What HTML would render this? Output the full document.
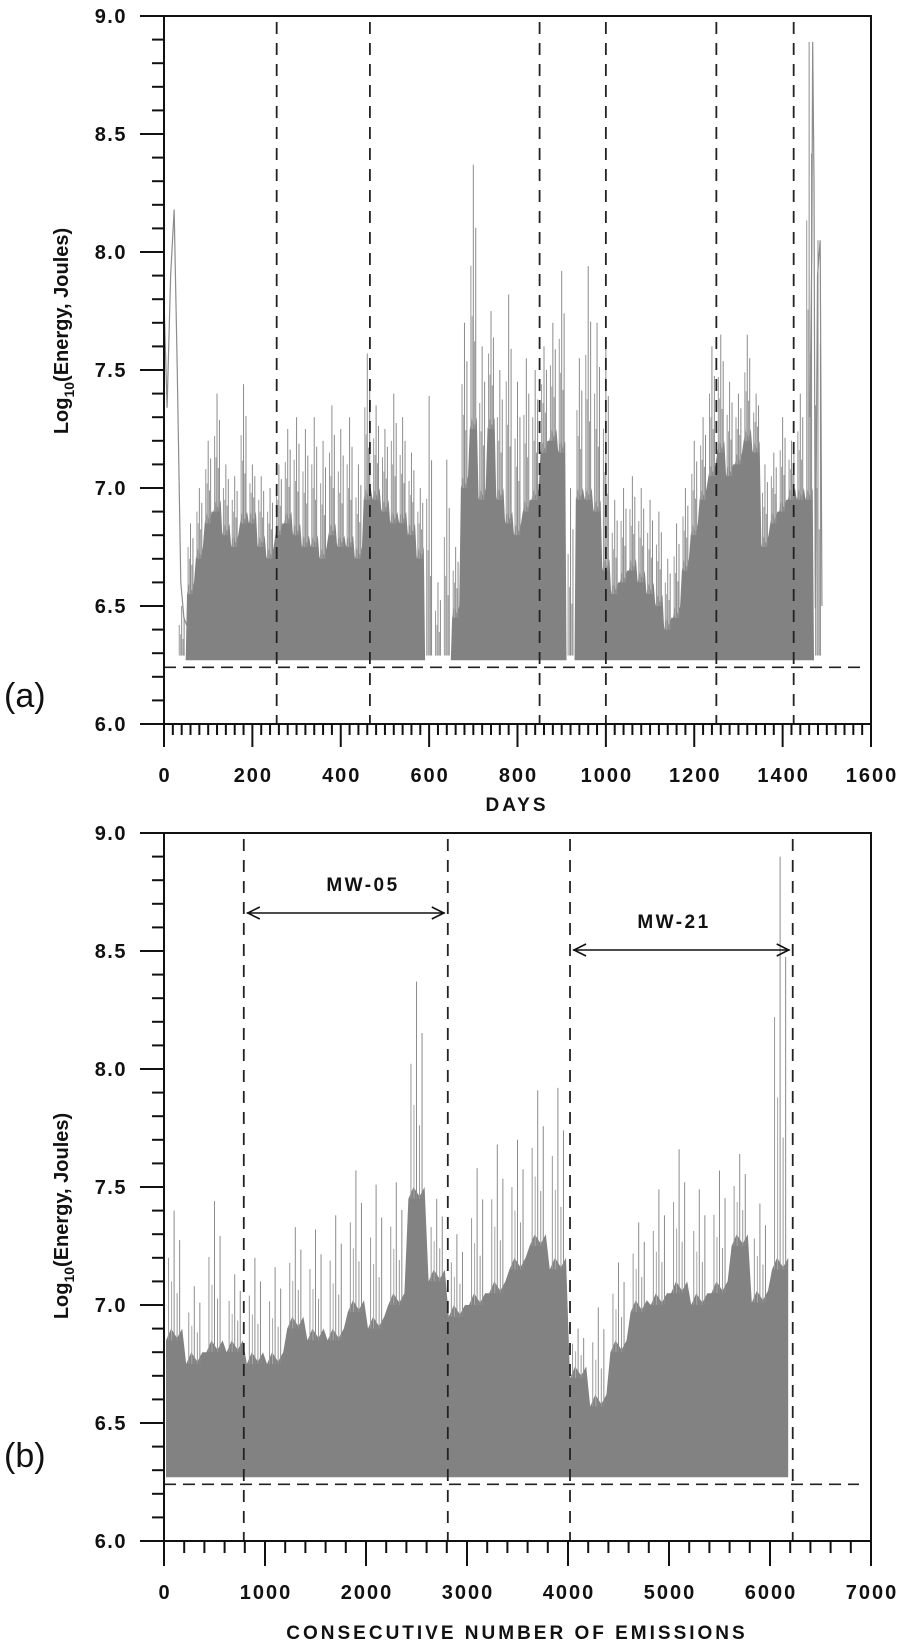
<!DOCTYPE html>
<html><head><meta charset="utf-8">
<style>
html,body{margin:0;padding:0;background:#fff;}
svg{display:block;font-family:"Liberation Sans",sans-serif;}
</style></head>
<body>
<svg id="chart" width="908" height="1649" viewBox="0 0 908 1649" xmlns="http://www.w3.org/2000/svg"></svg>
<script>
// ---------- Panel (a) data: 20-day bins ----------
const daysA = [40,60,80,100,120,140,160,180,200,220,240,260,280,300,320,340,360,380,400,420,440,460,480,500,520,540,560,580,600,620,640,660,680,700,720,740,760,780,800,820,840,860,880,900,920,940,960,980,1000,1020,1040,1060,1080,1100,1120,1140,1160,1180,1200,1220,1240,1260,1280,1300,1320,1340,1360,1380,1400,1420,1440,1460,1480];
const bodyA = [6.3,6.6,6.75,6.9,6.95,6.85,6.8,6.9,6.9,6.8,6.75,6.85,6.9,6.85,6.8,6.8,6.75,6.85,6.8,6.8,6.75,7.0,7.0,6.95,6.9,6.9,6.85,6.75,6.3,6.3,6.3,6.5,7.05,7.3,7.0,7.3,7.0,6.9,6.85,6.95,7.0,7.2,7.25,7.2,6.3,7.0,7.0,6.95,6.7,6.6,6.65,6.7,6.65,6.6,6.55,6.45,6.5,6.7,6.85,7.0,7.1,7.2,7.1,7.15,7.25,7.2,6.8,6.9,6.95,7.0,7.0,7.0,6.3];
const peakA = [6.5,6.85,7.0,7.2,7.4,7.1,7.05,7.44,7.1,7.05,7.0,7.1,7.25,7.3,7.25,7.3,7.2,7.35,7.25,7.3,7.1,7.57,7.35,7.25,7.4,7.3,7.15,7.0,7.39,6.6,7.12,6.75,7.7,8.37,7.6,7.75,7.5,7.82,7.45,7.55,7.5,7.6,7.7,7.92,7.0,7.55,7.94,7.7,7.62,6.95,7.0,7.05,7.0,6.95,6.9,6.7,6.85,7.0,7.2,7.3,7.6,7.65,7.45,7.4,7.65,7.4,7.1,7.15,7.3,7.2,7.4,8.89,8.05];
const startDays = [0,7,15,23,30,38,45,55];
const startVals = [7.8,7.34,7.9,8.18,7.5,6.6,6.45,6.4];
const endDays = [1462,1466,1468,1471,1474,1479,1485,1489];
const endVals = [7.3,8.0,8.89,8.3,6.49,7.9,8.05,6.5];
const dividersA = [255,466,850,1000,1250,1425];
const xTicksA = [0,200,400,600,800,1000,1200,1400,1600];
// ---------- Panel (b) data: 200-emission bins ----------
const binsB = [0,200,400,600,800,1000,1200,1400,1600,1800,2000,2200,2400,2600,2800,3000,3200,3400,3600,3800,4000,4200,4400,4600,4800,5000,5200,5400,5600,5800,6000];
const bodyB = [6.9,6.8,6.85,6.85,6.8,6.8,6.95,6.9,6.9,7.02,6.95,7.05,7.5,7.15,7.0,7.05,7.1,7.2,7.3,7.2,6.74,6.62,6.85,7.02,7.05,7.1,7.05,7.1,7.3,7.06,7.2];
const peakB = [7.4,7.08,7.44,7.13,7.2,7.16,7.33,7.32,7.38,7.57,7.51,7.52,8.37,7.45,7.3,7.58,7.68,7.7,7.91,7.92,6.9,6.99,7.18,7.35,7.49,7.66,7.49,7.57,7.64,7.43,8.9];
const dividersB = [790,2810,4020,6225];
const xTicksB = [0,1000,2000,3000,4000,5000,6000,7000];
const yTicks = [6.0,6.5,7.0,7.5,8.0,8.5,9.0];
const baseVal = 6.27, thresholdVal = 6.24;

const NS = "http://www.w3.org/2000/svg";
const svg = document.getElementById('chart');
function mk(tag, attrs, parent){
  const e = document.createElementNS(NS, tag);
  for (const k in attrs) e.setAttribute(k, attrs[k]);
  (parent||svg).appendChild(e);
  return e;
}

function panel(cfg){
  const g = mk('g', {});
  
  
  const L=164, R=871, T=cfg.top, B=cfg.bottom;
  const xs = v => L + (v - cfg.xmin) / (cfg.xmax - cfg.xmin) * (R - L);
  const ys = v => B - (v - 6) / 3 * (B - T);

  const dg = mk('g', {}, g);
  
  
  const half = cfg.binW / 2;
  let pts = [];
  for (let i = 0; i < cfg.cats.length; i++) {
    const c = cfg.cats[i] + cfg.centerOff;
    const b = cfg.body[i];
    if (b <= 6.3) { pts.push([xs(c-half+1), ys(baseVal)], [xs(c+half-1), ys(baseVal)]); continue; }
    pts.push([xs(c-half*0.8), ys(b-0.05)], [xs(c-half*0.3), ys(b)], [xs(c+half*0.3), ys(b-0.04)], [xs(c+half*0.8), ys(b)]);
  }
  const first = pts[0], last = pts[pts.length-1];
  let d = 'M' + first[0] + ',' + ys(baseVal) + ' ' + pts.map(p => 'L' + p[0].toFixed(1) + ',' + p[1].toFixed(1)).join(' ') + ' L' + last[0] + ',' + ys(baseVal) + 'Z';
  const body = mk('path', {d: d, fill: '#828282', stroke: 'none'}, dg);
  
  
  for (let i = 0; i < cfg.cats.length; i++) {
    const c = cfg.cats[i] + cfg.centerOff;
    const b = Math.max(cfg.body[i], 6.3), p = cfg.peak[i];
    const fr = [[0, 1, '#8c8c8c'], [-0.55, 0.6, '#999'], [0.55, 0.75, '#8a8a8a'], [-0.25, 0.4, '#aaa'], [0.3, 0.3, '#999']];
    for (const f of fr) {
      const x = xs(c + f[0]*half);
      const y1 = cfg.body[i] > 6.3 ? ys(b - 0.05) : ys(baseVal + 0.02);
      const ln = mk('line', {x1: x, x2: x, y1: y1, y2: ys(b + (p-b)*f[1]), stroke: f[2], 'stroke-width': 1}, dg);
      
      
    }
  }
  if (cfg.extra) for (const s of cfg.extra) {
    const pl = mk('polyline', {points: s[0].map((v,i)=>xs(v)+','+ys(s[1][i])).join(' '), fill: 'none', stroke: '#8c8c8c', 'stroke-width': 1.2}, dg);
    
    
  }

  const th = mk('line', {x1: L, x2: cfg.thEnd, y1: ys(thresholdVal), y2: ys(thresholdVal), stroke: '#222', 'stroke-width': 1.6, 'stroke-dasharray': '12,7'}, g);
  
  
  for (const v of cfg.dividers) {
    const ln = mk('line', {x1: xs(v), x2: xs(v), y1: T+6, y2: B, stroke: '#222', 'stroke-width': 1.8, 'stroke-dasharray': '12,9'}, g);
    
    
  }
  const fr = mk('path', {d: `M140,${T} H${R} V${B+cfg.majLen} M140,${B} H${R} M${L},${T} V${B+cfg.majLen}`, fill: 'none', stroke: '#111', 'stroke-width': 2}, g);
  
  
  for (let k = 0; k <= 30; k++) {
    const v = 6 + k*0.1, y = ys(v);
    const major = k % 5 === 0;
    const tk = mk('line', {x1: major ? 140 : 152, x2: L, y1: y, y2: y, stroke: '#111', 'stroke-width': 2}, g);
    
    
  }
  for (const v of yTicks) {
    const t = mk('text', {x: 127, y: ys(v)+7, 'text-anchor': 'end', 'font-size': 20, 'font-weight': 'bold', 'letter-spacing': 1.5, fill: '#111'}, g);
    t.textContent = v.toFixed(1);
    
    
  }
  const nMinor = Math.round((cfg.xmax - cfg.xmin) / cfg.minorStep);
  for (let k = 0; k <= nMinor; k++) {
    const v = cfg.xmin + k*cfg.minorStep, x = xs(v);
    const major = Math.abs(v % cfg.majorStep) < 1e-6;
    const tk = mk('line', {x1: x, x2: x, y1: B, y2: B + (major ? cfg.majLen : cfg.minLen), stroke: '#111', 'stroke-width': 2}, g);
    
    
  }
  for (const v of cfg.xTicks) {
    const t = mk('text', {x: xs(v)+1, y: cfg.labelY, 'text-anchor': 'middle', 'font-size': 20, 'font-weight': 'bold', 'letter-spacing': 2, fill: '#111'}, g);
    t.textContent = v;
    
    
  }
  const xt = mk('text', {x: 517, y: cfg.titleY, 'text-anchor': 'middle', 'font-size': 19, 'font-weight': 'bold', 'letter-spacing': 3, fill: '#111'}, g);
  xt.textContent = cfg.xTitle;
  
  
  const yt = mk('text', {x: 0, y: 0, 'text-anchor': 'middle', 'font-size': 20, 'font-weight': 'bold', fill: '#111', transform: `translate(68,${cfg.yTitleC}) rotate(-90)`}, g);
  yt.innerHTML = 'Log<tspan font-size="14" dy="6">10</tspan><tspan dy="-6">(Energy, Joules)</tspan>';
  
  
  const pl = mk('text', {x: 4, y: cfg.panelLabelY, 'font-size': 34, fill: '#111'}, g);
  pl.textContent = cfg.panelLabel;
  
  
  return {xs, ys, g};
}

panel({name:'panel-a', top:16, bottom:724, xmin:0, xmax:1600, cats:daysA, body:bodyA, peak:peakA, binW:20, centerOff:0,
  extra:[[startDays,startVals],[endDays,endVals]], dividers:dividersA, thEnd:860, minorStep:20, majorStep:200, minLen:11, majLen:23,
  xTicks:xTicksA, labelY:782, titleY:811, xTitle:'DAYS', yTitleC:331, panelLabel:'(a)', panelLabelY:707});

const pb = panel({name:'panel-b', top:833, bottom:1541, xmin:0, xmax:7000, cats:binsB, body:bodyB, peak:peakB, binW:200, centerOff:100,
  extra:null, dividers:dividersB, thEnd:859, minorStep:200, majorStep:1000, minLen:12, majLen:25,
  xTicks:xTicksB, labelY:1599, titleY:1639, xTitle:'CONSECUTIVE NUMBER OF EMISSIONS', yTitleC:1216, panelLabel:'(b)', panelLabelY:1467});

function arrow(x1, x2, y, label, lx, ly, name){
  const a = mk('g', {});
  
  
  mk('line', {x1:x1, x2:x2, y1:y, y2:y, stroke:'#111', 'stroke-width':1.6}, a);
  mk('polyline', {points:`${x1+13},${y-6} ${x1+1},${y} ${x1+13},${y+6}`, fill:'none', stroke:'#111', 'stroke-width':1.6}, a);
  mk('polyline', {points:`${x2-13},${y-6} ${x2-1},${y} ${x2-13},${y+6}`, fill:'none', stroke:'#111', 'stroke-width':1.6}, a);
  const t = mk('text', {x:lx, y:ly, 'text-anchor':'middle', 'font-size':19, 'font-weight':'bold', 'letter-spacing':2.5, fill:'#111'}, a);
  t.textContent = label;
}
arrow(pb.xs(dividersB[0])+3, pb.xs(dividersB[1])-3, 913, 'MW-05', 363, 891, 'mw05-range-arrow');
arrow(pb.xs(dividersB[2])+3, pb.xs(dividersB[3])-3, 950, 'MW-21', 674, 928, 'mw21-range-arrow');
</script>
</body></html>
